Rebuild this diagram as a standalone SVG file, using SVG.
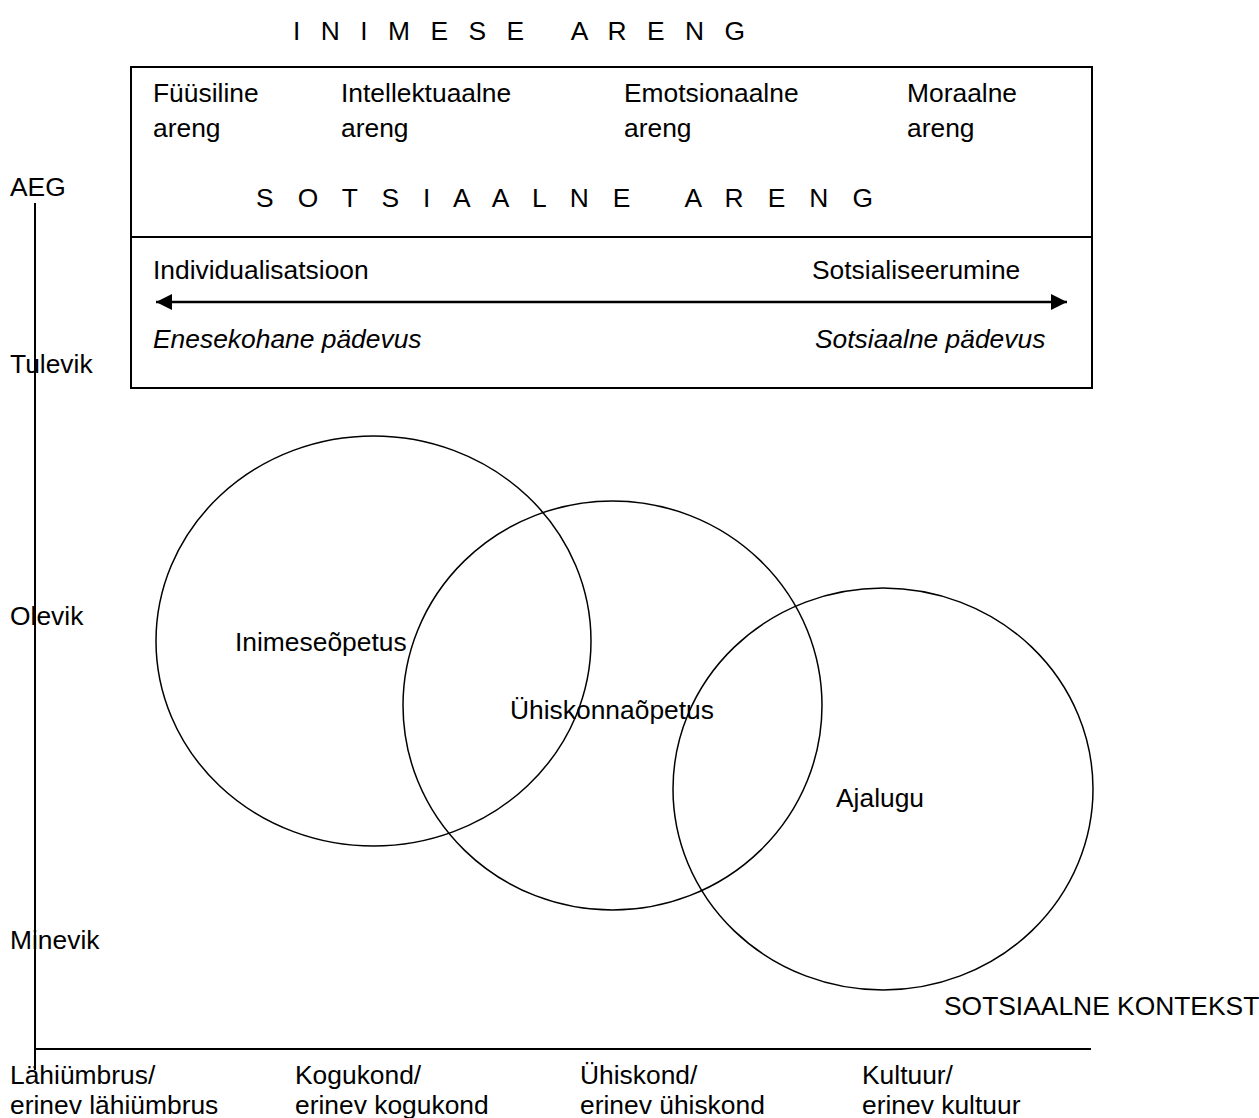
<svg xmlns="http://www.w3.org/2000/svg" width="1259" height="1118" viewBox="0 0 1259 1118">
<defs>
<style>
text{font-family:"Liberation Sans",Arial,sans-serif;font-size:26.4px;fill:#000}
.it{font-style:italic}
.ln{stroke:#000;stroke-width:2;fill:none}
.c{stroke:#000;stroke-width:1.5;fill:none}
</style>
<marker id="ah" viewBox="0 0 10 10" refX="10" refY="5" markerWidth="16" markerHeight="16" preserveAspectRatio="none" orient="auto-start-reverse" markerUnits="userSpaceOnUse"><path d="M0,0 L10,5 L0,10 z" fill="#000"/></marker>
</defs>
<rect width="1259" height="1118" fill="#fff"/>
<g id="title"><text x="293" y="40" textLength="452" xml:space="preserve">I N I M E S E   A R E N G</text></g>
<g id="box">
<rect x="131" y="67" width="961" height="321" class="ln"/>
<line x1="131" y1="237" x2="1092" y2="237" class="ln"/>
<text x="153" y="102">Füüsiline</text><text x="153" y="137">areng</text>
<text x="341" y="102">Intellektuaalne</text><text x="341" y="137">areng</text>
<text x="624" y="102">Emotsionaalne</text><text x="624" y="137">areng</text>
<text x="907" y="102">Moraalne</text><text x="907" y="137">areng</text>
<text x="256" y="207" textLength="617" xml:space="preserve">S O T S I A A L N E   A R E N G</text>
<text x="153" y="279">Individualisatsioon</text>
<text x="812" y="279">Sotsialiseerumine</text>
<text x="153" y="348" class="it">Enesekohane pädevus</text>
<text x="815" y="348" class="it">Sotsiaalne pädevus</text>
</g>
<g id="connectors">
<line x1="156" y1="302" x2="1067" y2="302" stroke="#000" stroke-width="2.5" marker-start="url(#ah)" marker-end="url(#ah)"/>
<line x1="35" y1="203" x2="35" y2="1070" class="ln"/>
<line x1="35" y1="1049" x2="1091" y2="1049" class="ln"/>
</g>
<g id="axis-labels">
<text x="10" y="196">AEG</text>
<text x="10" y="373">Tulevik</text>
<text x="10" y="625">Olevik</text>
<text x="10" y="949">Minevik</text>
<text x="944" y="1015">SOTSIAALNE KONTEKST</text>
<text x="10" y="1084">Lähiümbrus/</text><text x="10" y="1114">erinev lähiümbrus</text>
<text x="295" y="1084">Kogukond/</text><text x="295" y="1114">erinev kogukond</text>
<text x="580" y="1084">Ühiskond/</text><text x="580" y="1114">erinev ühiskond</text>
<text x="862" y="1084">Kultuur/</text><text x="862" y="1114">erinev kultuur</text>
</g>
<g id="inimeseopetus"><ellipse cx="373.5" cy="641" rx="217.5" ry="205" class="c"/><text x="235" y="651">Inimeseõpetus</text></g>
<g id="uhiskonnaopetus"><ellipse cx="612.5" cy="705.5" rx="209.5" ry="204.5" class="c"/><text x="510" y="719">Ühiskonnaõpetus</text></g>
<g id="ajalugu"><ellipse cx="883" cy="789" rx="210" ry="201" class="c"/><text x="836" y="807">Ajalugu</text></g>
</svg>
